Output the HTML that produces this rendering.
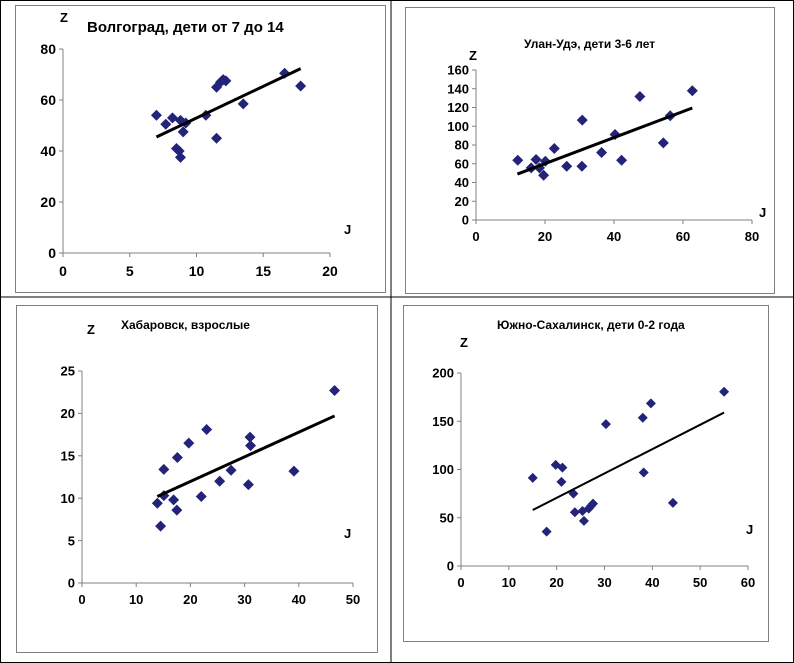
<!DOCTYPE html>
<html><head><meta charset="utf-8">
<style>
body{margin:0;background:#fff;}
svg{display:block;font-family:"Liberation Sans",Arial,sans-serif;font-weight:bold;}
</style></head>
<body>
<svg id="c" width="794" height="663" xmlns="http://www.w3.org/2000/svg">
<rect x="0.5" y="0.5" width="793" height="662" fill="#fff" stroke="#000" stroke-width="1"/>
<line x1="391" y1="0" x2="391" y2="663" stroke="#000"/>
<line x1="0" y1="297" x2="794" y2="297" stroke="#000"/>
</svg>
<script>
// Chart 1: Волгоград
const c1X=[7,7.7,8.2,8.5,8.7,8.8,8.8,9,9.2,10.7,11.5,11.5,11.8,12,12.2,13.5,16.6,17.8];
const c1Y=[54,50.5,53,41,40,37.5,52,47.5,51,54,45,65,67,68,67.5,58.5,70.5,65.5];
const c1Trend=[[7,45.5],[17.8,72.3]];
const c1XTicks=[0,5,10,15,20];
const c1YTicks=[0,20,40,60,80];
// Chart 2: Улан-Удэ
const c2X=[12.1,16,17.4,18.4,19.6,20.1,22.7,26.3,30.7,30.8,36.4,40.3,42.2,47.5,54.3,56.3,62.7];
const c2Y=[63.8,55.6,64.5,55.6,47.7,62.7,76.3,57.4,57.4,106.5,72,91.2,63.8,131.8,82.3,111.2,137.9];
const c2Trend=[[12,49],[62.7,119.5]];
const c2XTicks=[0,20,40,60,80];
const c2YTicks=[0,20,40,60,80,100,120,140,160];
// Chart 3: Хабаровск
const c3X=[13.9,14.5,15.1,15.1,16.9,17.5,17.6,19.7,22,23,25.4,27.5,30.7,31,31.1,39.1,46.6];
const c3Y=[9.4,6.7,13.4,10.3,9.8,8.6,14.8,16.5,10.2,18.1,12,13.3,11.6,17.2,16.2,13.2,22.7];
const c3Trend=[[13.9,10.2],[46.6,19.7]];
const c3XTicks=[0,10,20,30,40,50];
const c3YTicks=[0,5,10,15,20,25];
// Chart 4: Южно-Сахалинск
const c4X=[15,17.9,19.8,21,21.2,23.5,23.8,25.4,25.7,26.7,27.2,27.6,30.3,38,38.2,39.7,44.3,55];
const c4Y=[91.3,35.6,104.8,87.2,102,75,55.7,57,46.7,59.5,62.3,64.7,147,153.6,96.9,168.5,65.4,180.6];
const c4Trend=[[15,58],[55,159]];
const c4XTicks=[0,10,20,30,40,50,60];
const c4YTicks=[0,50,100,150,200];

const svg=document.getElementById('c');
const NS='http://www.w3.org/2000/svg';
function mk(tag,attrs,parent){const e=document.createElementNS(NS,tag);for(const k in attrs)e.setAttribute(k,attrs[k]);(parent||svg).appendChild(e);return e;}

function chart(cfg){
  const g=mk('g',{});
  
  
  const fr=mk('rect',{x:cfg.frame[0]+0.5,y:cfg.frame[1]+0.5,width:cfg.frame[2],height:cfg.frame[3],fill:'none',stroke:'#808080'},g);
  
  
  const xmax=cfg.xt[cfg.xt.length-1], ymax=cfg.yt[cfg.yt.length-1];
  const sx=v=>cfg.x0+(cfg.x1-cfg.x0)*v/xmax;
  const sy=v=>cfg.y0-(cfg.y0-cfg.y1)*v/ymax;
  const ax=mk('line',{x1:cfg.x0,y1:cfg.y0,x2:cfg.x1,y2:cfg.y0,stroke:'#808080'},g);
  
  
  const ay=mk('line',{x1:cfg.x0,y1:cfg.y0,x2:cfg.x0,y2:cfg.y1,stroke:'#808080'},g);
  
  
  cfg.xt.forEach(v=>{
    mk('line',{x1:sx(v),y1:cfg.y0,x2:sx(v),y2:cfg.y0+4,stroke:'#808080'},g);
    const t=mk('text',{x:sx(v),y:cfg.y0+cfg.fs+cfg.xo,'text-anchor':'middle','font-size':cfg.fs},g);
    t.textContent=v;
    
    
  });
  cfg.yt.forEach(v=>{
    mk('line',{x1:cfg.x0-4,y1:sy(v),x2:cfg.x0,y2:sy(v),stroke:'#808080'},g);
    const t=mk('text',{x:cfg.x0-7,y:sy(v)+cfg.fs*0.36,'text-anchor':'end','font-size':cfg.fs},g);
    t.textContent=v;
    
    
  });
  cfg.X.forEach((v,i)=>{
    const cx=sx(v),cy=sy(cfg.Y[i]),r=cfg.r;
    const p=mk('polygon',{points:`${cx},${cy-r} ${cx+r},${cy} ${cx},${cy+r} ${cx-r},${cy}`,fill:'#23237a'},g);
    
    
  });
  const tl=mk('line',{x1:sx(cfg.tr[0][0]),y1:sy(cfg.tr[0][1]),x2:sx(cfg.tr[1][0]),y2:sy(cfg.tr[1][1]),stroke:'#000','stroke-width':cfg.tw},g);
  
  
  const ti=mk('text',{x:cfg.title[0],y:cfg.title[1],'font-size':cfg.title[2]},g);
  ti.textContent=cfg.title[3];
  
  
  const z=mk('text',{x:cfg.z[0],y:cfg.z[1],'font-size':13},g);
  z.textContent='Z';
  
  
  const j=mk('text',{x:cfg.j[0],y:cfg.j[1],'font-size':13},g);
  j.textContent='J';
  
  
}

chart({name:'volgograd-chart',frame:[15,5,370,287],x0:63,x1:330,y0:253,y1:49,xt:c1XTicks,yt:c1YTicks,X:c1X,Y:c1Y,tr:c1Trend,fs:14,xo:9,r:5.5,tw:3,
  title:[87,32,15,'Волгоград, дети от 7 до 14'],z:[60,22],j:[344,234]});
chart({name:'ulan-ude-chart',frame:[405,7,369,286],x0:476,x1:752,y0:220,y1:70,xt:c2XTicks,yt:c2YTicks,X:c2X,Y:c2Y,tr:c2Trend,fs:13,xo:8,r:5.5,tw:3,
  title:[524,48,12,'Улан-Удэ, дети  3-6 лет'],z:[469,60],j:[759,217]});
chart({name:'khabarovsk-chart',frame:[16,305,361,347],x0:82,x1:353,y0:583,y1:371,xt:c3XTicks,yt:c3YTicks,X:c3X,Y:c3Y,tr:c3Trend,fs:13,xo:8,r:5.5,tw:3,
  title:[121,329,12,'Хабаровск,  взрослые'],z:[87,334],j:[344,538]});
chart({name:'yuzhno-sakhalinsk-chart',frame:[403,305,365,336],x0:461,x1:748,y0:566,y1:373,xt:c4XTicks,yt:c4YTicks,X:c4X,Y:c4Y,tr:c4Trend,fs:13,xo:8,r:5,tw:2,
  title:[497,329,12,'Южно-Сахалинск, дети 0-2 года'],z:[460,347],j:[746,534]});
</script>
</body></html>
